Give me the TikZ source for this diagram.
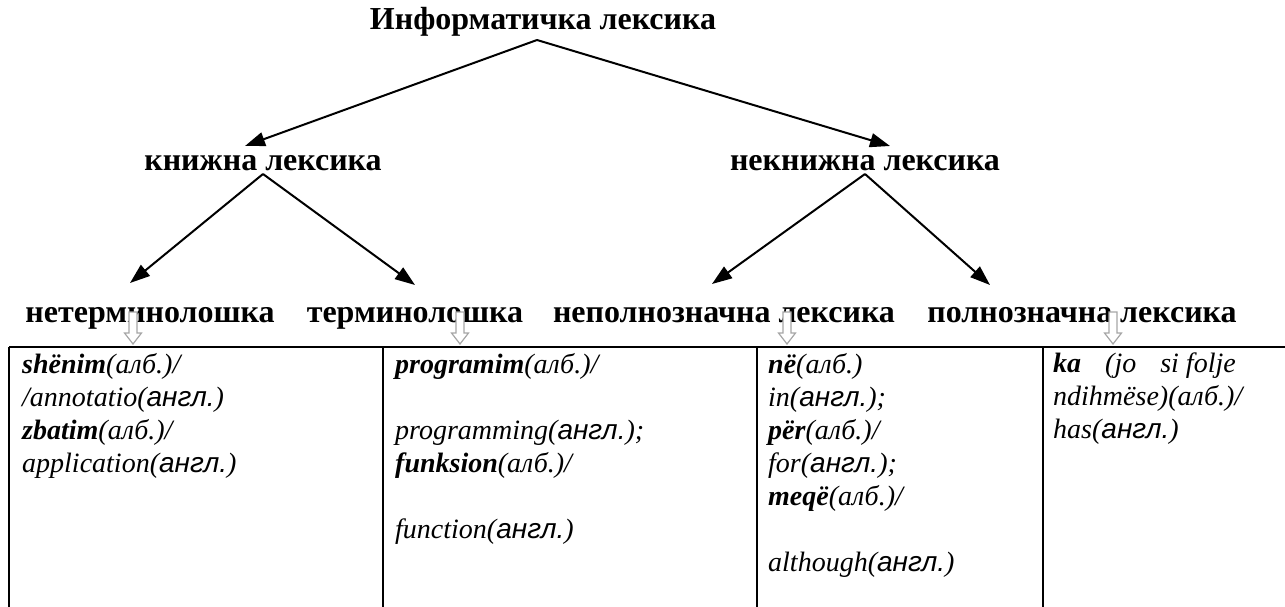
\documentclass[tikz,border=0pt]{standalone}
\usepackage{fontspec}
\setmainfont{Liberation Serif}
\newfontfamily\lsans{Liberation Sans}
\usetikzlibrary{arrows.meta,calc}
\newcommand\myalb{алб.}
\newcommand\myang{{\lsans\itshape англ.}}
\newcommand\bw[1]{\textbf{\textit{#1}}}

\begin{document}
\begin{tikzpicture}[x=1pt,y=-1pt,
  head/.style={font=\fontsize{32}{36}\selectfont\bfseries, inner sep=0pt, anchor=base},
  cell/.style={font=\fontsize{28}{33}\selectfont\itshape, align=left, anchor=north west, inner sep=0pt},
  branch/.style={line width=2pt, -{Triangle[length=20pt,width=14pt]}},
  grid/.style={line width=1.5pt},
  downarrow/.pic={\draw[gray!70, fill=white, line width=1.2pt]
     (-4,-16) -- (4,-16) -- (4,5) -- (8.5,5) -- (0,16) -- (-8.5,5) -- (-4,5) -- cycle;}]
\useasboundingbox (0,0) rectangle (1285,607);

% tree labels
\node[head] (root)  at (543,30)  {Информатичка лексика};
\node[head] (book)  at (263,170) {книжна лексика};
\node[head] (nbook) at (865,170) {некнижна лексика};
\node[head] (nterm) at (150,322) {нетерминолошка};
\node[head] (term)  at (415,322) {терминолошка};
\node[head] (part)  at (724,322) {неполнозначна лексика};
\node[head] (full)  at (1082,322) {полнозначна лексика};

% branches
\draw[branch] ($(root.base)+(-6,10)$) -- ($(book.base)+(-18,-24)$);
\draw[branch] ($(root.base)+(-6,10)$) -- ($(nbook.base)+(25,-24)$);
\draw[branch] ($(book.base)+(0,4)$) -- ($(nterm.base)+(-20,-39)$);
\draw[branch] ($(book.base)+(0,4)$) -- ($(term.base)+(0,-37)$);
\draw[branch] ($(nbook.base)+(0,4)$) -- ($(part.base)+(-12,-38)$);
\draw[branch] ($(nbook.base)+(0,4)$) -- ($(full.base)+(-92,-37)$);

% hollow down arrows into the table
\pic at (133,328) {downarrow};
\pic at (460,328) {downarrow};
\pic at (787,328) {downarrow};
\pic at (1113,328) {downarrow};

% table rules
\draw[grid] (9,347) -- (1285,347);
\foreach \x in {9,383,757,1043} \draw[grid] (\x,347) -- (\x,607);

% table cells
\node[cell] (c1) at (22,353) {\bw{shënim}(\myalb)/\\/annotatio(\myang)\\\bw{zbatim}(\myalb)/\\application(\myang)};
\node[cell] (c2) at (395,353) {\bw{programim}(\myalb)/\\[33pt]programming(\myang);\\\bw{funksion}(\myalb)/\\[33pt]function(\myang)};
\node[cell] (c3) at (768,353) {\bw{në}(\myalb)\\in(\myang);\\\bw{për}(\myalb)/\\for(\myang);\\\bw{meqë}(\myalb)/\\[33pt]although(\myang)};
\node[cell] (c4) at (1053,353) {\bw{ka}\hspace{24pt}(jo\hspace{24pt}si folje\\ndihmëse)(\myalb)/\\has(\myang)};
\end{tikzpicture}
\end{document}
